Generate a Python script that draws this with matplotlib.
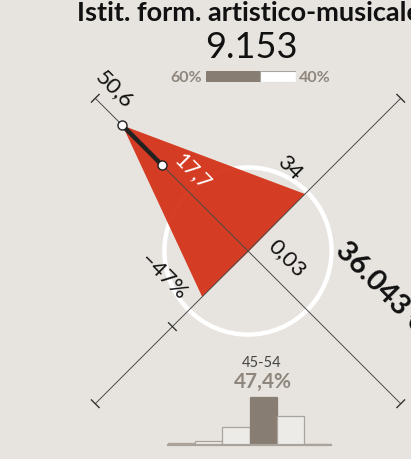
import numpy as np
import matplotlib
matplotlib.use("Agg")
import matplotlib.pyplot as plt
from matplotlib.patches import Polygon, Circle

# --- data ---
title = "Istit. form. artistico-musicale"
total = "9.153"
share_left, share_right = 60, 40          # % split bar
axis_angles = [135, 45, -45, -135]        # NW, NE, SE, SW
radar_r = [0.822, 0.373, 0.004, 0.30]     # polygon radius on each arm (arm = 1)
axis_labels = ["50,6", "34", "0,03", "–47%"]
inner_r = 0.563                           # second point on the NW arm
inner_label = "17,7"
ref_circle_r = 0.387
side_label = "36.043 €"
age_groups = ["<25", "25-34", "35-44", "45-54", "55-64", "65+"]
age_share = [1.8, 4.0, 17.5, 47.4, 28.5, 0.8]
highlight = 3

BG = "#e7e4df"
RED = "#d4331a"
TAUPE = "#877d73"
plt.rcParams["font.family"] = ["Lato", "DejaVu Sans"]

W, H = 411, 460
CX, CY, S = 248, 252, 216   # pixel centre and arm length

fig = plt.figure(figsize=(W / 100, H / 100), dpi=100, facecolor=BG)
ax = fig.add_axes([0, 0, 1, 1])
ax.set_facecolor(BG)
ax.set_xlim(-CX / S, (W - CX) / S)
ax.set_ylim(-(H - CY) / S, CY / S)
ax.axis("off")


def pol(ang, r, off=0.0):
    a = np.deg2rad(ang)
    p = np.deg2rad(ang + 90)
    return (r * np.cos(a) + off * np.cos(p), r * np.sin(a) + off * np.sin(p))


# reference circle
ax.add_patch(Circle((0, 0), ref_circle_r, fill=False, ec="white", lw=3.2, zorder=2))

# radar polygon
verts = [pol(a, r) for a, r in zip(axis_angles, radar_r)]
ax.add_patch(Polygon(verts, closed=True, fc=RED, ec="none", alpha=0.95, zorder=3))

# axes with end ticks
tk = 0.025
for a in axis_angles:
    x1, y1 = pol(a, 1.0)
    ax.plot([0, x1], [0, y1], color="#4a4a4a", lw=0.7, zorder=4)
    t1, t2 = pol(a, 1.0, tk), pol(a, 1.0, -tk)
    ax.plot([t1[0], t2[0]], [t1[1], t2[1]], color="#333333", lw=1.0, zorder=4)
# mid tick on SW arm
t1, t2 = pol(-135, 0.495, tk), pol(-135, 0.495, -tk)
ax.plot([t1[0], t2[0]], [t1[1], t2[1]], color="#333333", lw=1.0, zorder=4)

# thick segment on NW arm
p_out, p_in = pol(135, radar_r[0]), pol(135, inner_r)
ax.plot([p_out[0], p_in[0]], [p_out[1], p_in[1]], color="#222222", lw=3.2,
        solid_capstyle="butt", zorder=5)
ax.plot([p_out[0], p_in[0]], [p_out[1], p_in[1]], "o", ms=6.5, mfc="white",
        mec="#222222", mew=1.0, zorder=6)

# axis labels
lab_pos = [(135, 0.97, -0.095), (45, 0.41, 0.14), (-45, 0.147, 0.108), (-135, 0.36, -0.196)]
for (a, r, off), txt in zip(lab_pos, axis_labels):
    x, y = pol(a, r, off)
    ax.text(x, y, txt, rotation=-45, rotation_mode="anchor", ha="center",
            va="center", fontsize=16, color="#111111", zorder=7)
x, y = pol(135, 0.442, -0.081)
ax.text(x, y, inner_label, rotation=-45, rotation_mode="anchor", ha="center",
        va="center", fontsize=15.5, color="white", zorder=7)
ax.text(0.425, 0.025, side_label, rotation=-45, rotation_mode="anchor", ha="left",
        va="center", fontsize=21, fontweight="bold", color="#111111", zorder=7)

# header
fig.text(249 / W, 1 - 13 / H, title, ha="center", va="center", fontsize=19.5,
         fontweight="bold", color="#111111")
fig.text(251 / W, 1 - 48 / H, total, ha="center", va="center", fontsize=26,
         color="#111111")
bax = fig.add_axes([206 / W, 1 - 83 / H, 90 / W, 11 / H])
bax.set_xlim(0, 100)
bax.set_ylim(0, 1)
bax.axis("off")
bax.barh(0.5, share_left, height=1, left=0, color=TAUPE, ec=TAUPE, lw=0.8)
bax.barh(0.5, share_right, height=1, left=share_left, color="white", ec="#aaa39c", lw=0.8)
fig.text(202 / W, 1 - 78 / H, f"{share_left}%", ha="right", va="center",
         fontsize=11.5, fontweight="bold", color="#8f877e")
fig.text(299 / W, 1 - 78 / H, f"{share_right}%", ha="left", va="center",
         fontsize=11.5, fontweight="bold", color="#8f877e")

# histogram
fig.text(262 / W, 1 - 363 / H, age_groups[highlight], ha="center", va="center",
         fontsize=10.5, color="#444444")
fig.text(263 / W, 1 - 382 / H, f"{age_share[highlight]:.1f}%".replace(".", ","),
         ha="center", va="center", fontsize=15, fontweight="bold", color="#8f877e")
hax = fig.add_axes([168 / W, 1 - 446 / H, 163 / W, 56 / H])
hax.set_xlim(0, len(age_share))
hax.set_ylim(0, age_share[highlight] * 56 / 48)
hax.axis("off")
for i, v in enumerate(age_share):
    fc = TAUPE if i == highlight else "#ecebe7"
    ec = TAUPE if i == highlight else "#a9a39c"
    hax.bar(i + 0.5, v, width=1, color=fc, ec=ec, lw=0.9)
hax.plot([0, len(age_share)], [0, 0], color="#a9a39c", lw=1.6, clip_on=False)

fig.savefig("out.png", dpi=100, facecolor=BG)
